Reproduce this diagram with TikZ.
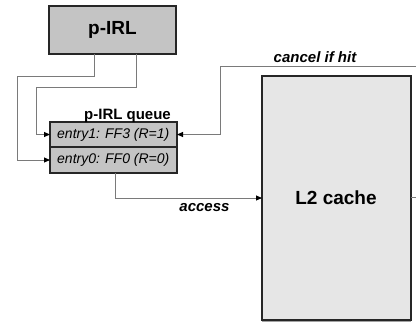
\documentclass[tikz,border=0pt]{standalone}
\usepackage{fontspec}
\setmainfont{Liberation Sans}
\usetikzlibrary{arrows.meta,calc}
\definecolor{boxgray}{HTML}{C4C4C4}
\definecolor{cachegray}{HTML}{E6E6E6}
\definecolor{linegray}{HTML}{7A7A7A}
\begin{document}
\begin{tikzpicture}[x=1pt,y=-1pt,
  box/.style={draw=black!85,line width=1.2pt,inner sep=0pt,outer sep=0pt},
  conn/.style={draw=linegray,line width=0.9pt},
  tip/.style={-{Triangle[color=black,length=6pt,width=5pt]}},
  lab/.style={font=\bfseries\itshape\fontsize{15}{18}\selectfont,inner sep=0pt}]
\useasboundingbox (0,0) rectangle (416,322);
% boxes
\node[box,fill=boxgray,minimum width=127pt,minimum height=48pt,anchor=north west,
  font=\bfseries\fontsize{19}{22}\selectfont] (pirl) at (49,6) {p-IRL};
\node[box,fill=boxgray,minimum width=127pt,minimum height=25pt,anchor=north west] (e1) at (50,122) {};
\node[box,fill=boxgray,minimum width=127pt,minimum height=26pt,anchor=north west] (e0) at (50,147) {};
\node[anchor=west,inner sep=0pt,font=\itshape\fontsize{14}{16}\selectfont] (t1) at ($(e1.west)+(7,0)$) {entry1: FF3 (R=1)};
\node[anchor=west,inner sep=0pt,font=\itshape\fontsize{14}{16}\selectfont] (t0) at ($(e0.west)+(7,0)$) {entry0: FF0 (R=0)};
\node[anchor=base,inner sep=0pt,font=\bfseries\fontsize{15}{18}\selectfont] (ql) at (127.5,119) {p-IRL queue};
\node[box,fill=cachegray,minimum width=149pt,minimum height=244pt,anchor=north west] (l2) at (262,76) {};
\node[font=\bfseries\fontsize{19}{22}\selectfont,inner sep=0pt] (l2t) at (336,198) {L2 cache};
\draw[linegray!70,line width=1.2pt] (l2.south west) ++(0,1.5) -- ++(149,0);
% coordinates for free ends
\coordinate (cr) at (416,66);
\coordinate (rr) at (416,197);
% connectors
\draw[conn,tip] ($(pirl.south west)+(45,0)$) -- ++(0,22) -| (17,160) -- (e0.west);
\draw[conn,tip] ($(pirl.south west)+(87,0)$) -- ++(0,33) -| (36,134.5) -- (e1.west);
\draw[conn,tip] (cr) -| (220,134.5) -- (e1.east);
\draw[conn,tip] ($(e0.south west)+(65,0)$) |- (l2.west |- 0,198);
\draw[conn] (l2.east |- rr) -- (rr);
% labels
\node[lab,anchor=base] (cl) at (315,62) {cancel if hit};
\node[lab,anchor=base] (al) at (204.5,211) {access};
\end{tikzpicture}
\end{document}
